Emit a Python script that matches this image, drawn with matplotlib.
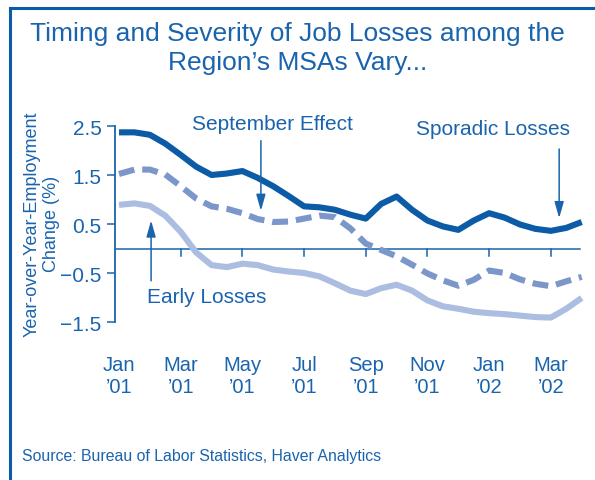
import numpy as np
import matplotlib
matplotlib.use("Agg")
import matplotlib.pyplot as plt
from matplotlib.lines import Line2D

plt.rcParams['font.family'] = ['Liberation Sans', 'DejaVu Sans']

blue_text = '#1a64ae'
dark_blue = '#0b5ba6'
mid_blue = '#7b97ca'
light_blue = '#abbde1'

# half-month steps, 0 = Jan '01
months = np.arange(0, 15.01, 0.5)

sporadic = [2.38, 2.38, 2.33, 2.15, 1.92, 1.68, 1.51, 1.54, 1.59, 1.45,
            1.28, 1.08, 0.87, 0.85, 0.80, 0.70, 0.62, 0.92, 1.07, 0.80,
            0.58, 0.46, 0.39, 0.58, 0.73, 0.64, 0.50, 0.41, 0.37, 0.43, 0.55]
september = [1.53, 1.62, 1.62, 1.52, 1.28, 1.03, 0.87, 0.82, 0.73, 0.61,
             0.55, 0.56, 0.62, 0.68, 0.65, 0.42, 0.11, -0.02, -0.15, -0.32,
             -0.50, -0.64, -0.75, -0.63, -0.44, -0.49, -0.62, -0.71, -0.76, -0.66, -0.57]
early = [0.90, 0.93, 0.88, 0.68, 0.35, -0.07, -0.33, -0.37, -0.30, -0.33,
         -0.42, -0.46, -0.49, -0.56, -0.70, -0.85, -0.92, -0.80, -0.73, -0.85,
         -1.05, -1.17, -1.22, -1.28, -1.31, -1.33, -1.36, -1.39, -1.40, -1.22, -1.00]

tick_months = [0, 2, 4, 6, 8, 10, 12, 14]
tick_labels = ['Jan\n\u201901', 'Mar\n\u201901', 'May\n\u201901', 'Jul\n\u201901',
               'Sep\n\u201901', 'Nov\n\u201901', 'Jan\n\u201902', 'Mar\n\u201902']
y_ticks = [2.5, 1.5, 0.5, -0.5, -1.5]
y_labels = ['2.5', '1.5', '0.5', '\u22120.5', '\u22121.5']

W, H = 595, 481
fig = plt.figure(figsize=(W / 100, H / 100), dpi=100)
ax = fig.add_axes([0.1938, 0.3173, 0.789, 0.4279])
ax.set_xlim(-0.12, 15.1)
ax.set_ylim(-1.6, 2.6)

ax.plot(months, early, color=light_blue, lw=4.4, solid_capstyle='butt', solid_joinstyle='round')
ax.plot(months, september, color=mid_blue, lw=4.4, dashes=(2.6, 1.3), dash_capstyle='butt')
ax.plot(months, sporadic, color=dark_blue, lw=4.4, solid_capstyle='butt', solid_joinstyle='round')

# zero line with its own month ticks
ax.plot([-0.12, 14.95], [0, 0], color=blue_text, lw=1.1, zorder=1)
for m in tick_months[1:]:
    ax.plot([m, m], [0, -0.15], color=blue_text, lw=1.1, zorder=1)

for s in ['top', 'right', 'bottom']:
    ax.spines[s].set_visible(False)
ax.spines['left'].set_color(blue_text)
ax.spines['left'].set_linewidth(1.3)
ax.spines['left'].set_bounds(-1.5, 2.5)

ax.set_yticks(y_ticks)
ax.set_yticklabels(y_labels)
ax.tick_params(axis='y', direction='out', length=6, width=1.1, color=blue_text,
               labelcolor=blue_text, labelsize=15, pad=4)
ax.set_xticks(tick_months)
ax.set_xticklabels(tick_labels, linespacing=1.2)
ax.tick_params(axis='x', length=0, labelcolor=blue_text, labelsize=14.5, pad=20)

fig.text(41.5 / W, 1 - 224 / H, 'Year-over-Year-Employment\nChange (%)', color=blue_text,
         fontsize=13, rotation=90, ha='center', va='center', multialignment='center',
         linespacing=1.2)

arrow = dict(arrowstyle='-|>,head_length=0.7,head_width=0.2', color=blue_text,
             lw=1.1, shrinkA=0, shrinkB=0, mutation_scale=14)
ax.annotate('', xy=(4.6, 0.78), xytext=(4.6, 2.21), arrowprops=arrow)
ax.annotate('', xy=(14.27, 0.63), xytext=(14.27, 2.04), arrowprops=arrow)
ax.annotate('', xy=(1.04, 0.58), xytext=(1.04, -0.65), arrowprops=arrow)

ax.text(4.98, 2.57, 'September Effect', color=blue_text, fontsize=15, ha='center', va='center')
ax.text(12.14, 2.45, 'Sporadic Losses', color=blue_text, fontsize=15, ha='center', va='center')
ax.text(2.85, -0.98, 'Early Losses', color=blue_text, fontsize=15, ha='center', va='center')

fig.text(0.5, 1 - 41 / H, 'Timing and Severity of Job Losses among the',
         color=blue_text, fontsize=19, ha='center', va='baseline')
fig.text(0.5, 1 - 70 / H, 'Region\u2019s MSAs Vary...',
         color=blue_text, fontsize=19, ha='center', va='baseline')
fig.text(22 / W, 1 - 456 / H, 'Source: Bureau of Labor Statistics, Haver Analytics',
         color=blue_text, fontsize=11.4, ha='left', va='center')

# frame on top and left edges
fig.add_artist(Line2D([10 / W, 10 / W], [0, 1 - 8.5 / H], color=dark_blue, lw=2.2,
                      transform=fig.transFigure, solid_capstyle='projecting'))
fig.add_artist(Line2D([10 / W, 1], [1 - 8.5 / H, 1 - 8.5 / H], color=dark_blue, lw=2.2,
                      transform=fig.transFigure, solid_capstyle='projecting'))

fig.savefig('out.png', dpi=100)
